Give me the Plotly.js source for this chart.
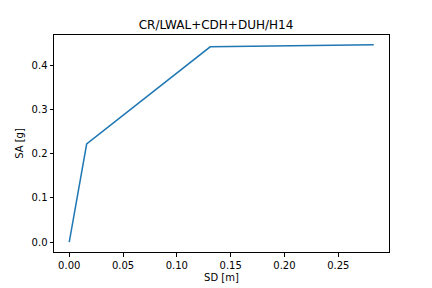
<!DOCTYPE html>
<html><head><meta charset="utf-8">
<script src="https://cdn.plot.ly/plotly-3.0.1.min.js"></script>
<style>html,body{margin:0;padding:0;background:#fff}#c{width:432px;height:288px}</style>
</head><body><div id="c"></div>
<script>
const sd = [0, 0.0162, 0.131, 0.283];
const sa = [0, 0.2216, 0.441, 0.4455];
const xTicks = [0, 0.05, 0.10, 0.15, 0.20, 0.25];
const xTickLabels = ["0.00","0.05","0.10","0.15","0.20","0.25"];
const yTicks = [0, 0.1, 0.2, 0.3, 0.4];
const yTickLabels = ["0.0","0.1","0.2","0.3","0.4"];

const axisCommon = {showgrid:false, zeroline:false, showline:true, linecolor:'#000', linewidth:1, mirror:true,
  ticks:'outside', ticklen:3.5, tickwidth:1, tickcolor:'#000', tickfont:{family:'DejaVu Sans', size:10, color:'#000'}};
const xr = [-0.01415, 0.29715];
const yr = [-0.022275, 0.467775];
Plotly.newPlot('c', [{x:sd, y:sa, type:'scatter', mode:'lines', line:{color:'#1f77b4', width:1.5}}], {
  width:432, height:288, margin:{l:54, r:43, t:35, b:36}, paper_bgcolor:'#fff', plot_bgcolor:'#fff', showlegend:false,
  title:{text:'CR/LWAL+CDH+DUH/H14', font:{family:'DejaVu Sans', size:12, color:'#000'}, x:0.5, xanchor:'center', y:1-29/288, yanchor:'bottom'},
  xaxis:Object.assign({}, axisCommon, {range:xr, tickvals:xTicks, ticktext:xTickLabels, title:{text:'SD [m]', font:{family:'DejaVu Sans', size:10, color:'#000'}, standoff:4}}),
  yaxis:Object.assign({}, axisCommon, {range:yr, tickvals:yTicks, ticktext:yTickLabels, title:{text:'SA [g]', font:{family:'DejaVu Sans', size:10, color:'#000'}, standoff:6}})
}, {staticPlot:true, displayModeBar:false});
</script></body></html>
